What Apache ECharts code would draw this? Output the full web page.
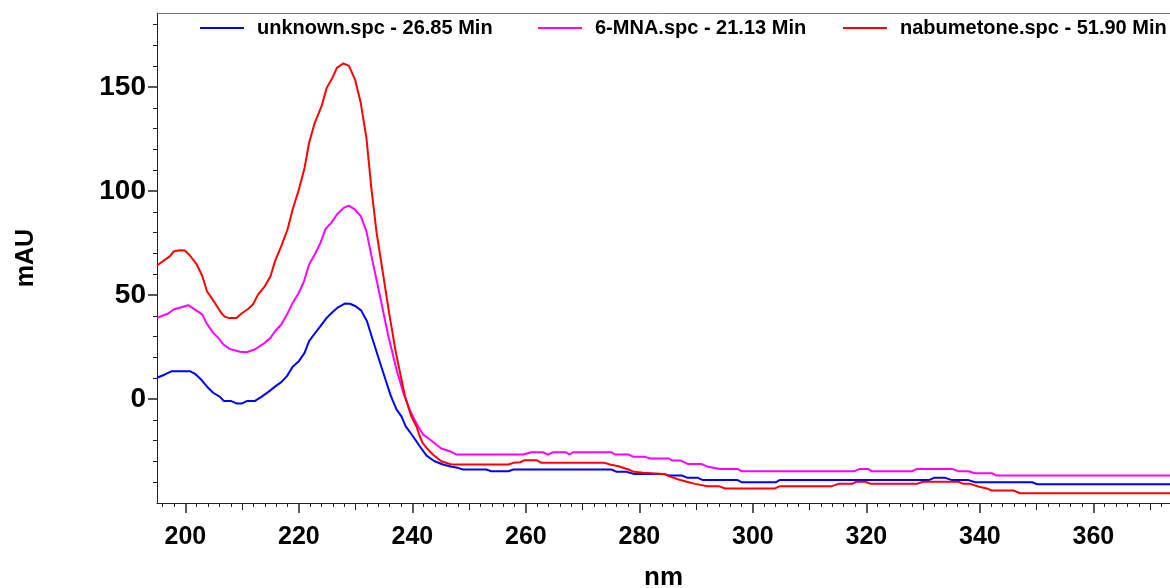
<!DOCTYPE html>
<html>
<head>
<meta charset="utf-8">
<script src="https://cdn.jsdelivr.net/npm/echarts@6/dist/echarts.min.js"></script>
<style>
html,body{margin:0;padding:0;background:#fff;}
#chart{width:1170px;height:588px;}
</style>
</head>
<body>
<div id="chart"></div>
<script>
// ---- data ----
const seriesNames = ['unknown.spc - 26.85 Min', '6-MNA.spc - 21.13 Min', 'nabumetone.spc - 51.90 Min'];
const seriesColors = ['#0000FF', '#FF00FF', '#FF0000'];

const wavelengthLabelTicks = [200, 220, 240, 260, 280, 300, 320, 340, 360];
const wavelengthMidTicks = [210, 230, 250, 270, 290, 310, 330, 350, 370];
const wavelengthMinorTicks = [196,198,202,204,206,208,212,214,216,218,222,224,226,228,232,234,236,238,242,244,246,248,252,254,256,258,262,264,266,268,272,274,276,278,282,284,286,288,292,294,296,298,302,304,306,308,312,314,316,318,322,324,326,328,332,334,336,338,342,344,346,348,352,354,356,358,362,364,366,368,372];
const mauLabelTicks = [0, 50, 100, 150];
const mauMinorTicks = [-40,-30,-20,-10,10,20,30,40,60,70,80,90,110,120,130,140,160,170,180];

const unknownNm = [195,196.4,197.6,200.8,201.7,202.9,204,204.9,206.1,206.8,208.1,209.1,209.9,210.8,212.2,213.4,214.8,215.9,216.9,217.9,218.9,220,221,221.8,222.8,223.8,224.9,225.9,226.9,228.1,229,230,231,232,233,234.4,235.6,236.2,237.2,238.1,238.8,240.1,241.3,242.5,243.9,245.4,246.9,248,248.9,253,253.9,256.9,257.8,275.1,276,277.7,279,284.3,285.2,287.5,288.5,290.3,291.2,297.3,298,304.1,304.7,331,331.9,333.9,335.1,338,339.2,349.2,350.1,373.5];
const unknownMAU = [10.2,11.8,13.4,13.4,12.1,9.0,5.4,3.0,1.0,-1.0,-1.0,-2.2,-2.2,-1.0,-1.0,1.0,3.8,6.2,8.1,11.0,15.5,18.2,22.2,27.8,31.5,35.0,39.0,41.7,44.1,45.9,45.8,44.6,42.5,37.4,28.6,16.6,6.5,1.5,-5,-8.5,-13,-17.9,-22.7,-27.2,-29.9,-31.5,-32.6,-33.1,-33.9,-33.9,-34.7,-34.7,-33.9,-33.9,-35,-35,-36,-36,-36.8,-36.8,-37.9,-37.9,-39,-39,-40,-40,-39,-39,-37.9,-37.9,-39,-39,-40,-40,-41,-41];

const mnaNm = [195,197,197.9,199.3,200.5,201.7,203,203.7,204.9,205.8,206.7,207.8,209.6,210.8,212.2,214,215,215.8,216.9,217.9,218.9,220,220.9,221.8,222.8,223.8,224.7,225.7,226.7,227.9,228.8,229.9,230.9,231.9,232.8,234.3,235.7,237.2,238.4,239.5,240.4,241,241.9,243.1,244.2,245.1,246.6,247.8,259.5,261,263,263.9,264.8,267.1,267.7,268.3,275.1,275.7,278.1,279,281,281.9,285.2,285.8,287.3,288.5,290.9,292.1,294.2,297.3,298,317.9,318.8,320.3,320.9,328.1,328.9,335.1,336.2,338,339.1,342.1,343,373.5];
const mnaMAU = [39,41.1,43,44.1,45.1,43,40.6,36.6,31.8,29.4,26.2,24.1,22.7,22.5,23.8,27,29.4,32.6,35.8,40.6,46.2,51.1,56.6,64.7,69.5,75.1,81.8,84.7,88.7,91.9,93.0,91.1,87.9,80.7,68.7,49.4,31,14.2,3,-5.0,-9.9,-13.1,-17.1,-19.5,-21.9,-23.8,-25.1,-26.7,-26.7,-25.6,-25.6,-26.7,-25.6,-25.6,-26.7,-25.6,-25.6,-26.7,-26.7,-27.8,-27.8,-28.6,-28.6,-29.6,-29.6,-31.2,-31.2,-32.6,-33.6,-33.6,-34.7,-34.7,-33.6,-33.6,-34.7,-34.7,-33.6,-33.6,-34.7,-34.7,-35.7,-35.7,-36.8,-36.8];

const nabumetoneNm = [195,197.3,197.9,199,199.9,200.8,202,203,203.8,205.2,206.4,207,207.8,209,209.9,211.1,211.9,212.8,214,215,215.8,216.9,218,218.9,220,221,221.8,222.8,224,224.9,225.9,226.7,227.8,228.8,229.9,230.9,231.9,232.8,233.7,234.8,235.9,237.1,238.7,239.8,240.7,241.3,241.8,242.5,243.6,245.1,246.9,256.9,257.8,259,259.8,261.9,262.7,273.9,274.8,276.3,278.1,279,280.7,284.3,285.2,286.9,288.7,289.8,292,294,295.1,303.9,304.8,313.9,315.1,317.5,318.2,319.8,320.8,328.9,330,336.2,337.1,338.3,339.7,341.2,342.1,345.9,347.1,373.5];
const nabumetoneMAU = [64.2,68.7,70.9,71.5,71.4,69,64.7,59,51.8,46.2,41.1,39.5,38.9,38.9,41.1,43.4,45.4,50.2,54.2,59,66.3,73.5,81.5,91.1,100.7,111.1,123.2,132.8,140.8,149.6,154.4,159.2,161.3,160.3,153.6,142.4,125.6,100.7,79.9,60.7,41.4,22.2,1.3,-8.3,-13.1,-17.9,-21.1,-23.5,-26.7,-29.9,-31.5,-31.5,-30.7,-30.4,-29.4,-29.4,-30.7,-30.7,-31.5,-32.3,-33.9,-35,-35.5,-36,-37.1,-38.7,-40,-40.8,-41.9,-41.9,-43,-43,-41.9,-41.9,-40.8,-40.8,-39.8,-39.8,-40.8,-40.8,-39.8,-39.8,-40.8,-40.8,-42.1,-43,-44,-44,-45.3,-45.3];

const allNm = [unknownNm, mnaNm, nabumetoneNm];
const allMAU = [unknownMAU, mnaMAU, nabumetoneMAU];

// ---- chart ----
const FONT = '"Liberation Sans", Arial, sans-serif';
const X_MIN = 195, X_MAX = 373.5, Y_MIN = -50, Y_MAX = 185.6;
const axisColor = '#222';

const chart = echarts.init(document.getElementById('chart'), null, {renderer: 'canvas'});

function pairs(xs, ys) { return xs.map((x, i) => [x, ys[i]]); }

const legendLefts = [200, 538, 843];
const legends = seriesNames.map((n, i) => ({
  data: [n],
  left: legendLefts[i],
  top: 18,
  padding: 0,
  orient: 'horizontal',
  icon: 'rect',
  itemWidth: 44,
  itemHeight: 2,
  selectedMode: false,
  textStyle: {fontFamily: FONT, fontWeight: 'bold', fontSize: 20, color: '#000', padding: [0, 0, 0, 8]}
}));

const baseX = {type: 'value', min: X_MIN, max: X_MAX, splitLine: {show: false}, gridIndex: 0};
const baseY = {type: 'value', min: Y_MIN, max: Y_MAX, splitLine: {show: false}, gridIndex: 0};

const option = {
  animation: false,
  backgroundColor: '#fff',
  legend: legends,
  grid: {left: 157, top: 13, width: 1013, height: 490, containLabel: false, outerBoundsMode: 'none'},
  xAxis: [
    Object.assign({}, baseX, {
      position: 'bottom',
      axisLine: {show: true, onZero: false, lineStyle: {color: axisColor, width: 1}},
      axisTick: {show: true, customValues: wavelengthMinorTicks, length: 4, lineStyle: {color: axisColor}},
      axisLabel: {show: false}
    }),
    Object.assign({}, baseX, {
      position: 'bottom',
      axisLine: {show: false, onZero: false},
      axisTick: {show: true, customValues: wavelengthMidTicks, length: 7, lineStyle: {color: axisColor}},
      axisLabel: {show: false}
    }),
    Object.assign({}, baseX, {
      position: 'bottom',
      axisLine: {show: false, onZero: false},
      axisTick: {show: true, customValues: wavelengthLabelTicks, length: 10, lineStyle: {color: axisColor, width: 1.5}},
      axisLabel: {show: true, customValues: wavelengthLabelTicks, margin: 22, fontFamily: FONT, fontWeight: 'bold', fontSize: 25, color: '#000'},
      name: 'nm',
      nameLocation: 'middle',
      nameGap: 62,
      nameTextStyle: {fontFamily: FONT, fontWeight: 'bold', fontSize: 26, color: '#000'}
    }),
    Object.assign({}, baseX, {
      position: 'top',
      axisLine: {show: true, onZero: false, lineStyle: {color: '#777', width: 1}},
      axisTick: {show: false},
      axisLabel: {show: false}
    })
  ],
  yAxis: [
    Object.assign({}, baseY, {
      position: 'left',
      axisLine: {show: true, onZero: false, lineStyle: {color: axisColor, width: 1}},
      axisTick: {show: true, customValues: mauMinorTicks, length: 4, lineStyle: {color: axisColor}},
      axisLabel: {show: false}
    }),
    Object.assign({}, baseY, {
      position: 'left',
      axisLine: {show: false, onZero: false},
      axisTick: {show: true, customValues: mauLabelTicks, length: 9, lineStyle: {color: axisColor, width: 1.5}},
      axisLabel: {show: true, customValues: mauLabelTicks, margin: 11, padding: [15, 0, 0, 0], fontFamily: FONT, fontWeight: 'bold', fontSize: 28, color: '#000'},
      name: 'mAU',
      nameLocation: 'middle',
      nameRotate: 90,
      nameGap: 118,
      nameTextStyle: {fontFamily: FONT, fontWeight: 'bold', fontSize: 25, color: '#000'}
    })
  ],
  series: seriesNames.map((n, i) => ({
    name: n,
    type: 'line',
    xAxisIndex: 0,
    yAxisIndex: 0,
    data: pairs(allNm[i], allMAU[i]),
    showSymbol: false,
    symbol: 'none',
    smooth: false,
    lineStyle: {color: seriesColors[i], width: 2},
    itemStyle: {color: seriesColors[i]},
    z: 3 + i
  }))
};

chart.setOption(option);
</script>
</body>
</html>
